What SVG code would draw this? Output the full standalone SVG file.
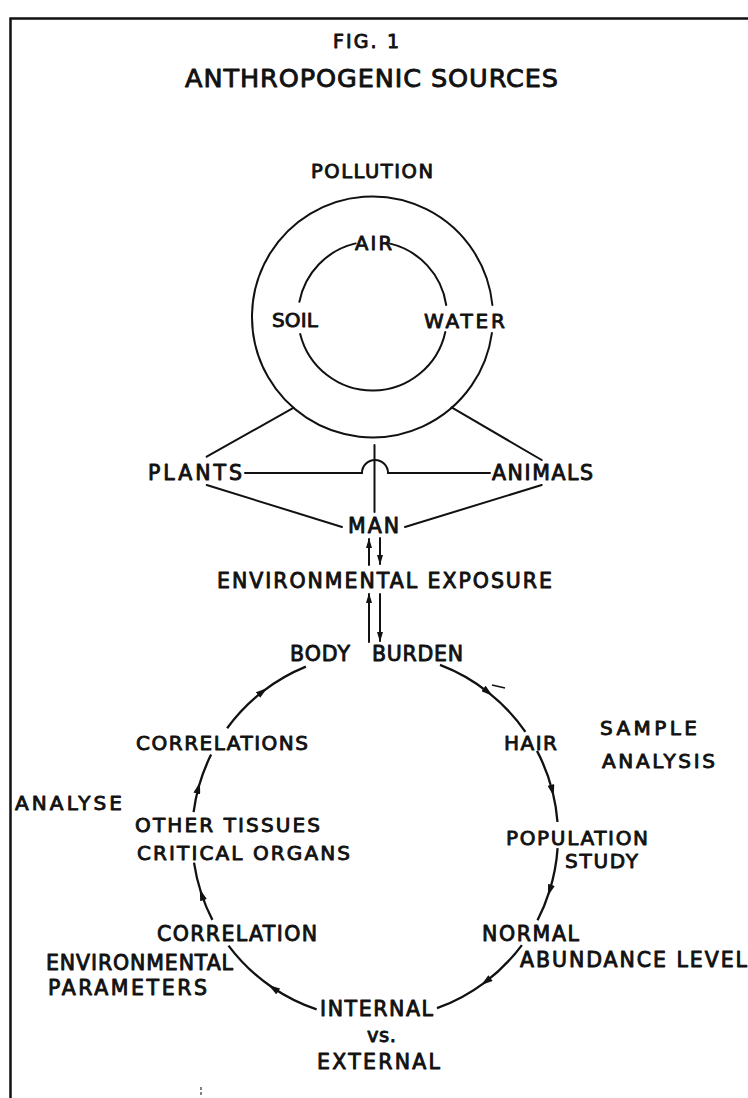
<svg xmlns="http://www.w3.org/2000/svg" width="748" height="1098" viewBox="0 0 748 1098">
  <style>
    .t { font-family: "DejaVu Sans", "Liberation Sans", sans-serif; fill: #111; stroke: #111; stroke-width: 0.9; stroke-linejoin: round; }
    .ln { fill: none; stroke: #111; stroke-width: 2; stroke-linecap: round; }
    .arc { fill: none; stroke: #111; stroke-width: 2.3; marker-mid: url(#head); }
    .frame { fill: none; stroke: #111; stroke-width: 2.5; }
  </style>
  <defs>
    <marker id="head" viewBox="0 0 10 6" markerWidth="12" markerHeight="7" refX="6" refY="3" orient="auto" markerUnits="userSpaceOnUse">
      <path d="M0,0 L10,3 L0,6 z" fill="#111"/>
    </marker>
    <marker id="arrowEnd" viewBox="0 0 10 6" markerWidth="10" markerHeight="6" refX="9" refY="3" orient="auto" markerUnits="userSpaceOnUse">
      <path d="M0,0 L10,3 L0,6 z" fill="#111"/>
    </marker>
  </defs>

  <rect width="748" height="1098" fill="#fff"/>

  <!-- page frame: top rule and left rule -->
  <path class="frame" d="M10.5 1098 V18.5 H748"/>

  <!-- heading -->
  <g id="title">
    <text class="t" x="333" y="48" font-size="19" textLength="66">FIG. 1</text>
    <text class="t" x="185" y="87" font-size="25.5" textLength="373">ANTHROPOGENIC  SOURCES</text>
  </g>

  <!-- pollution ring with its three media -->
  <g id="pollution">
    <text class="t" x="311" y="178" font-size="19.5" textLength="122">POLLUTION</text>
    <path class="ln" d="M491.9 333.1 A120.5 120.5 0 1 1 492.4 305.0"/>
    <path class="ln" d="M445.3 332.0 A74.5 74.5 0 0 1 300.2 334.0"/>
    <path class="ln" d="M299.4 301.8 A74.5 74.5 0 0 1 355.7 243.4"/>
    <path class="ln" d="M389.3 243.4 A74.5 74.5 0 0 1 446.2 305.0"/>
  </g>
  <g id="air"><text class="t" x="355" y="250" font-size="19.5" textLength="37">AIR</text></g>
  <g id="soil"><text class="t" x="272" y="327" font-size="20" textLength="46">SOIL</text></g>
  <g id="water"><text class="t" x="424" y="328" font-size="20" textLength="81">WATER</text></g>

  <g id="plants"><text class="t" x="148" y="480" font-size="20.5" textLength="94">PLANTS</text></g>
  <g id="animals"><text class="t" x="492" y="480" font-size="20.5" textLength="101">ANIMALS</text></g>
  <g id="man"><text class="t" x="348" y="533" font-size="20.5" textLength="51">MAN</text></g>
  <g id="exposure"><text class="t" x="217" y="588" font-size="20.5" textLength="335">ENVIRONMENTAL  EXPOSURE</text></g>
  <g id="body-burden">
    <text class="t" x="290" y="661" font-size="20.5" textLength="60">BODY</text>
    <text class="t" x="372" y="661" font-size="20.5" textLength="91">BURDEN</text>
  </g>

  <!-- sample analysis cycle -->
  <g id="hair"><text class="t" x="504" y="750" font-size="20" textLength="53">HAIR</text></g>
  <g id="sample-analysis">
    <text class="t" x="600" y="735" font-size="20" textLength="97">SAMPLE</text>
    <text class="t" x="602" y="768" font-size="20" textLength="113">ANALYSIS</text>
  </g>
  <g id="population-study">
    <text class="t" x="506" y="845" font-size="20" textLength="142">POPULATION</text>
    <text class="t" x="565" y="868" font-size="20" textLength="73">STUDY</text>
  </g>
  <g id="normal-level">
    <text class="t" x="482" y="941" font-size="20.5" textLength="97">NORMAL</text>
    <text class="t" x="520" y="967" font-size="20.5" textLength="227">ABUNDANCE LEVEL</text>
  </g>
  <g id="internal-external">
    <text class="t" x="320" y="1016" font-size="20.5" textLength="113">INTERNAL</text>
    <text class="t" x="367" y="1042" font-size="19.5" textLength="29">vs.</text>
    <text class="t" x="317" y="1069" font-size="20.5" textLength="123">EXTERNAL</text>
  </g>
  <g id="correlation-env">
    <text class="t" x="157" y="941" font-size="20.5" textLength="160">CORRELATION</text>
    <text class="t" x="46" y="970" font-size="20.5" textLength="187">ENVIRONMENTAL</text>
    <text class="t" x="48" y="995" font-size="20.5" textLength="159">PARAMETERS</text>
  </g>
  <g id="tissues">
    <text class="t" x="135" y="832" font-size="20" textLength="185">OTHER TISSUES</text>
    <text class="t" x="137" y="860" font-size="20" textLength="213">CRITICAL ORGANS</text>
  </g>
  <g id="correlations"><text class="t" x="136" y="750" font-size="20" textLength="172">CORRELATIONS</text></g>
  <g id="analyse"><text class="t" x="15" y="810" font-size="20" textLength="107">ANALYSE</text></g>

  <g id="connectors">
    <!-- ring to plants, animals and man -->
    <path class="ln" d="M293.8 407.7 L206.7 456.7"/>
    <path class="ln" d="M451.6 407.4 L541.7 460"/>
    <path class="ln" d="M374.5 445 V512"/>
    <path class="ln" d="M245 473 H362 A13 13 0 0 1 388 473 H490"/>
    <path class="ln" d="M206.7 485 L342 527"/>
    <path class="ln" d="M541.7 485 L405 527"/>

    <!-- two-way links man / exposure / body burden -->
    <path class="ln" d="M369 565 V539" marker-end="url(#arrowEnd)"/>
    <path class="ln" d="M380 538 V564" marker-end="url(#arrowEnd)"/>
    <path class="ln" d="M369 642 V594" marker-end="url(#arrowEnd)"/>
    <path class="ln" d="M380 594 V641" marker-end="url(#arrowEnd)"/>

    <!-- cycle arcs, centre (375,836) r 183 -->
    <path class="arc" d="M440.0 664.9 A183 183 0 0 1 488.9 692.8 A183 183 0 0 1 525.4 731.8"/>
    <path class="arc" d="M537.0 750.9 A183 183 0 0 1 552.6 791.7 A183 183 0 0 1 557.5 822.0"/>
    <path class="arc" d="M557.6 848.1 A183 183 0 0 1 549.3 891.6 A183 183 0 0 1 537.5 920.2"/>
    <path class="arc" d="M521.9 945.1 A183 183 0 0 1 484.9 982.3 A183 183 0 0 1 437.0 1008.2"/>
    <path class="arc" d="M316.6 1009.4 A183 183 0 0 1 272.4 987.5 A183 183 0 0 1 228.5 945.6"/>
    <path class="arc" d="M212.4 919.9 A183 183 0 0 1 201.3 893.5 A183 183 0 0 1 194.0 862.7"/>
    <path class="arc" d="M193.6 812.1 A183 183 0 0 1 198.7 786.8 A183 183 0 0 1 211.1 754.6"/>
    <path class="arc" d="M227.1 728.2 A183 183 0 0 1 263.6 690.8 A183 183 0 0 1 305.9 666.6"/>
  </g>

  <!-- small pen marks -->
  <path d="M492 685 L505 688" stroke="#111" stroke-width="1.5" fill="none"/>
  <path d="M201 1087 V1097" stroke="#333" stroke-width="1.2" stroke-dasharray="3 2" fill="none"/>
</svg>
